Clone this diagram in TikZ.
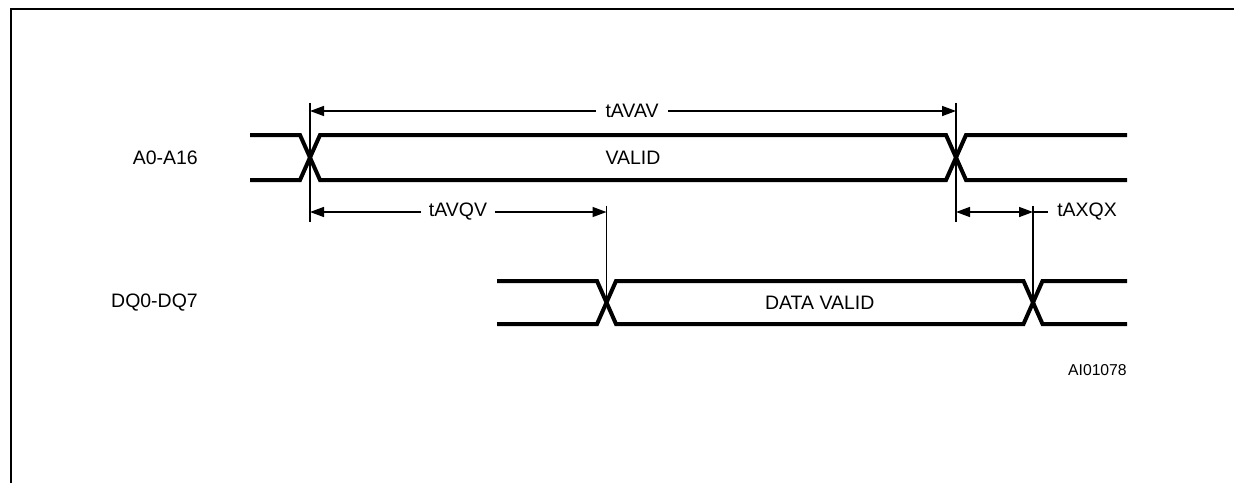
\documentclass[tikz,border=0pt]{standalone}
\usepackage{fontspec}
\setmainfont{Liberation Sans}
\usetikzlibrary{arrows.meta,positioning,calc}
\definecolor{trait}{RGB}{0,0,0}
\tikzset{
  bus/.style={line width=3pt, draw=trait, line join=miter},
  cote/.style={line width=1.1pt, draw=trait},
  fleche/.style={cote, -{Triangle[length=10.5pt,width=7.5pt]}},
  double/.style={cote, {Triangle[length=10.5pt,width=7.5pt]}-{Triangle[length=10.5pt,width=7.5pt]}},
  cadre/.style={line width=1.6pt, draw=trait},
  etiq/.style={font=\fontsize{14.6}{17}\selectfont, inner sep=0pt},
  mesure/.style={etiq, fill=white, inner xsep=7pt},
  ref/.style={font=\fontsize{11.8}{14}\selectfont, inner sep=0pt},
}
% bus : debut, croisement 1, croisement 2, fin, haut, bas, demi-largeur
\newcommand{\bus}[7]{%
  \draw[bus] (#1,#5) -- (#2-#7,#5) -- (#2+#7,#6) -- (#3-#7,#6) -- (#3+#7,#5) -- (#4,#5);
  \draw[bus] (#1,#6) -- (#2-#7,#6) -- (#2+#7,#5) -- (#3-#7,#5) -- (#3+#7,#6) -- (#4,#6);}
\begin{document}
\begin{tikzpicture}[x=0.75pt,y=-0.75pt]
  \useasboundingbox (0,0) rectangle (1234,483);
  \draw[cadre] (11,483) -- (11,9) -- (1234,9);
  % croisements
  \coordinate (xa1) at (310,157.5);
  \coordinate (xa2) at (956,157.5);
  \coordinate (xd1) at (606.5,302.5);
  \coordinate (xd2) at (1033,302.5);
  % signaux
  \bus{250}{310}{956}{1127}{135}{180}{10}
  \bus{497}{606.5}{1033}{1127}{281}{324}{9.5}
  \node[etiq, anchor=east] (adr) at (198,158) {A0-A16};
  \node[etiq, anchor=east] (dq) at (198,303) {DQ0-DQ7};
  \node[etiq] (valid) at ($(xa1)!0.5!(xa2)$) {VALID};
  \node[etiq] (dvalid) at ($(xd1)!0.5!(xd2)$) {DATA VALID};
  % lignes de rappel
  \draw[cote] ($(xa1)+(0,-55)$) -- ($(xa1)+(0,64)$);
  \draw[cote] ($(xa2)+(0,-55)$) -- ($(xa2)+(0,64)$);
  \draw[cote] ($(xd1)+(0,-97)$) -- (xd1);
  \draw[cote] ($(xd2)+(0,-97)$) -- (xd2);
  % cotes
  \node[mesure] (tavav) at (632,111) {tAVAV};
  \draw[fleche] (tavav.west) -- (xa1 |- tavav);
  \draw[fleche] (tavav.east) -- (xa2 |- tavav);
  \node[mesure, inner xsep=5.5pt] (tavqv) at (458,212) {tAVQV};
  \draw[fleche] (tavqv.west) -- (xa1 |- tavqv);
  \draw[fleche] (tavqv.east) -- (xd1 |- tavqv);
  \draw[double] (xa2 |- tavqv) -- (xd2 |- tavqv);
  \node[etiq, anchor=west] (taxqx) at (1057,212) {tAXQX};
  \draw[cote] (xd2 |- taxqx) -- ($(taxqx.west)+(-9,0)$);
  \node[ref, anchor=east] (num) at (1127,370) {AI01078};
\end{tikzpicture}
\end{document}
